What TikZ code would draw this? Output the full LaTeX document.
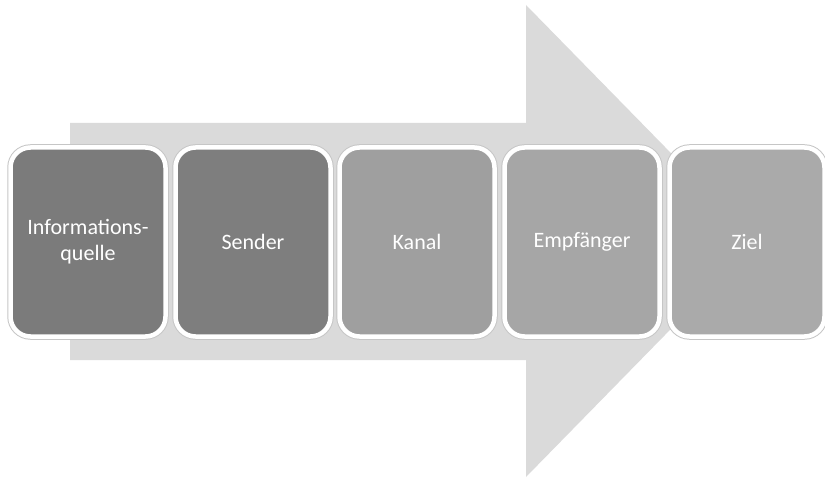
\documentclass[tikz,border=0pt]{standalone}
\usepackage{fontspec}
\setmainfont{Carlito}
\definecolor{arrowgray}{HTML}{DADADA}
\definecolor{darkbox}{HTML}{7B7B7B}
\definecolor{lightbox}{HTML}{A6A6A6}
\tikzset{
  stage/.style = {rectangle, rounded corners=20pt, fill=#1,
                  draw=white, line width=4.5pt,
                  preaction={draw=gray!45, line width=6.5pt},
                  minimum width=155pt, minimum height=189pt,
                  inner sep=0pt, text=white, align=center,
                  font=\fontsize{22}{26}\selectfont},
  stage/.default = lightbox
}

\begin{document}
\begin{tikzpicture}[x=1pt,y=-1pt]
	\useasboundingbox (0,0) rectangle (825,481);
	
	% Big arrow in the back
	\fill[arrowgray] (70,123) -- (526,123) -- (526,5) -- (757,241)
	                 -- (526,477) -- (526,360) -- (70,360) -- cycle;
	
	% Stages
	\node[stage=darkbox] (quelle)   at (88,242)  {Informations-\\quelle};
	\node[stage=darkbox!98!white] (sender) at (253,242) {Sender};
	\node[stage=lightbox!96!black] (kanal) at (417,242) {Kanal};
	\node[stage] (empf)     at (582,242) {Empf\"anger};
	\node[stage=lightbox!95!white] (ziel) at (747,242) {Ziel};
	
\end{tikzpicture}
\end{document}
